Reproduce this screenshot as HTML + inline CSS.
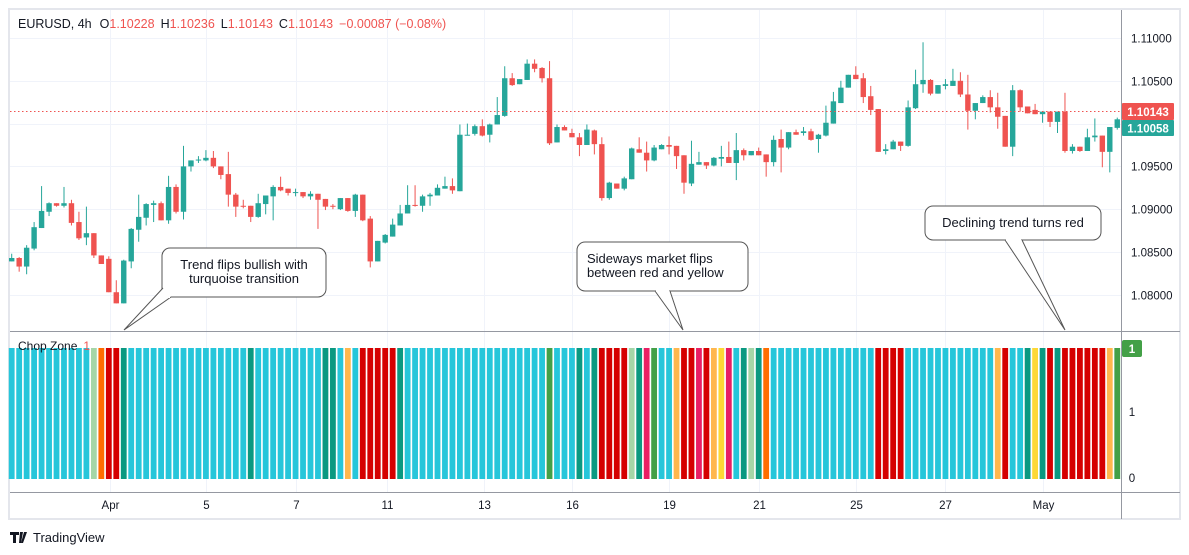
<!DOCTYPE html>
<html><head><meta charset="utf-8">
<style>
html,body{margin:0;padding:0;background:#fff;width:1189px;height:555px;overflow:hidden;font-family:"Liberation Sans",sans-serif;}
svg{position:absolute;left:0;top:0}
</style></head>
<body>
<svg id="chart" width="1189" height="555" viewBox="0 0 1189 555" xmlns="http://www.w3.org/2000/svg">
  <rect x="9" y="9" width="1171" height="510" fill="#fff" stroke="#e4e6ec" stroke-width="2"/>
  <g id="grid"></g>
  <g id="candles"></g>
  <g id="chop"></g>
  <line x1="10" y1="111.5" x2="1121" y2="111.5" stroke="#ef5350" stroke-width="1" stroke-dasharray="1.5,2.5"/>
  <line x1="10" y1="331.5" x2="1180" y2="331.5" stroke="#9598a1" stroke-width="1"/>
  <line x1="1121.5" y1="10" x2="1121.5" y2="519" stroke="#9598a1" stroke-width="1"/>
  <line x1="10" y1="492.5" x2="1180" y2="492.5" stroke="#9598a1" stroke-width="1"/>
  <g id="yaxis" font-size="11.5" fill="#131722"></g>
  <g id="xaxis" font-size="11.5" fill="#131722"></g>
  <rect x="1122" y="103" width="52" height="17" rx="1" fill="#ef5350"/>
  <text x="1148" y="116" font-size="11.5" font-weight="bold" fill="#fff" text-anchor="middle">1.10143</text>
  <rect x="1122" y="120" width="52" height="16" rx="1" fill="#26a69a"/>
  <text x="1148" y="132.5" font-size="11.5" font-weight="bold" fill="#fff" text-anchor="middle">1.10058</text>
  <rect x="1122" y="340" width="20" height="17" rx="2" fill="#43a047"/>
  <text x="1132" y="353" font-size="11.5" font-weight="bold" fill="#fff" text-anchor="middle">1</text>
  <text x="1132" y="416" font-size="11.5" fill="#131722" text-anchor="middle">1</text>
  <text x="1132" y="482" font-size="11.5" fill="#131722" text-anchor="middle">0</text>
  <text x="18" y="350" font-size="12" fill="#131722">Chop Zone<tspan dx="6" fill="#ef5350">1</tspan></text>
  <text x="18" y="28" font-size="12.5" fill="#131722">EURUSD, 4h<tspan dx="8">O</tspan><tspan fill="#ef5350">1.10228</tspan><tspan dx="6">H</tspan><tspan fill="#ef5350">1.10236</tspan><tspan dx="6">L</tspan><tspan fill="#ef5350">1.10143</tspan><tspan dx="6">C</tspan><tspan fill="#ef5350">1.10143</tspan><tspan dx="6" fill="#ef5350">−0.00087 (−0.08%)</tspan></text>

  <g>
    <rect x="162" y="248" width="164" height="49" rx="8" fill="#fff" stroke="#555" stroke-width="1"/>
    <polyline points="163,288 124,330 171,297" fill="#fff" stroke="#555" stroke-width="1"/>
    <line x1="164" y1="297" x2="170" y2="297" stroke="#fff" stroke-width="2"/>
    <text x="244" y="269" font-size="13" fill="#131722" text-anchor="middle">Trend flips bullish with</text>
    <text x="244" y="283" font-size="13" fill="#131722" text-anchor="middle">turquoise transition</text>
  </g>
  <g>
    <rect x="577" y="242" width="171" height="49" rx="8" fill="#fff" stroke="#555" stroke-width="1"/>
    <polyline points="655,291 683,330 670,291" fill="#fff" stroke="#555" stroke-width="1"/>
    <line x1="656" y1="291" x2="669" y2="291" stroke="#fff" stroke-width="2"/>
    <text x="587" y="263" font-size="13" fill="#131722">Sideways market flips</text>
    <text x="587" y="277" font-size="13" fill="#131722">between red and yellow</text>
  </g>
  <g>
    <rect x="925" y="206" width="176" height="34" rx="8" fill="#fff" stroke="#555" stroke-width="1"/>
    <polyline points="1005,240 1065,330 1022,240" fill="#fff" stroke="#555" stroke-width="1"/>
    <line x1="1006" y1="240" x2="1021" y2="240" stroke="#fff" stroke-width="2"/>
    <text x="1013" y="227" font-size="13" fill="#131722" text-anchor="middle">Declining trend turns red</text>
  </g>

  <g>
    <path d="M10 532h9v3h-3v8h-3v-8h-3z M20 532h3l-2 11h-2z M24 532h3l-4 11h-2z" fill="#131722"/>
    <text x="33" y="542" font-size="13" fill="#131722">TradingView</text>
  </g>
</svg>
<script>
const priceTicks=[1.11,1.105,1.1,1.095,1.09,1.085,1.08];
const priceTickLabels=["1.11000","1.10500","1.10000","1.09500","1.09000","1.08500","1.08000"];
const dateLabels=["Apr","5","7","11","13","16","19","21","25","27","May"];
const dateIndex=[13.1,26,38,50.3,63.2,75,88,100,113,125,138];
const opens=[1.0839,1.0843,1.0833,1.0854,1.0878,1.0897,1.0907,1.0904,1.0907,1.0885,1.0867,1.0872,1.0846,1.0842,1.0803,1.0790,1.0839,1.0876,1.0890,1.0905,1.0907,1.0887,1.0926,1.0897,1.0950,1.0957,1.0957,1.0960,1.0950,1.0941,1.0917,1.0904,1.0904,1.0891,1.0906,1.0915,1.0926,1.0924,1.0919,1.0920,1.0915,1.0918,1.0912,1.0904,1.0900,1.0913,1.0898,1.0917,1.0889,1.0839,1.0861,1.0868,1.0881,1.0895,1.0905,1.0904,1.0915,1.0916,1.0924,1.0927,1.0921,1.0986,1.0988,1.0997,1.0987,1.0999,1.1009,1.1053,1.1046,1.1051,1.1070,1.1065,1.1053,1.0978,1.0996,1.0989,1.0984,1.0975,1.0992,1.0976,1.0913,1.0930,1.0924,1.0935,1.0970,1.0966,1.0957,1.0970,1.0975,1.0974,1.0963,1.0930,1.0952,1.0955,1.0951,1.0959,1.0961,1.0954,1.0969,1.0963,1.0968,1.0964,1.0955,1.0982,1.0972,1.0990,1.0989,1.0991,1.0982,1.0986,1.1000,1.1024,1.1042,1.1057,1.1053,1.1032,1.1017,1.0968,1.0970,1.0979,1.0974,1.1018,1.1046,1.1051,1.1035,1.1044,1.1044,1.1050,1.1034,1.1015,1.1024,1.1031,1.1019,1.1009,1.0973,1.1039,1.1020,1.1016,1.1011,1.1014,1.1002,1.1014,1.0968,1.0973,1.0968,1.0984,1.0986,1.0967,1.0995];
const highs=[1.0848,1.0844,1.0858,1.0885,1.0927,1.0908,1.0907,1.0926,1.0911,1.0897,1.0903,1.0872,1.0846,1.0845,1.0817,1.0841,1.0878,1.0917,1.0907,1.0910,1.0909,1.0939,1.0929,1.0974,1.0957,1.0962,1.0969,1.0968,1.0950,1.0967,1.0919,1.0911,1.0904,1.0918,1.0916,1.0928,1.0938,1.0924,1.0924,1.0920,1.0921,1.0918,1.0912,1.0906,1.0913,1.0913,1.0918,1.0917,1.0892,1.0863,1.0871,1.0889,1.0905,1.0928,1.0928,1.0917,1.0919,1.0929,1.0938,1.0936,1.0999,1.1000,1.0999,1.1005,1.1000,1.1031,1.1067,1.1059,1.1052,1.1075,1.1075,1.1066,1.1073,1.0999,1.0998,1.0994,1.0989,1.0999,1.0993,1.0984,1.0932,1.0930,1.0938,1.0972,1.0984,1.0979,1.0975,1.0976,1.0985,1.0974,1.0963,1.0980,1.0967,1.0955,1.0961,1.0974,1.0979,1.0989,1.0971,1.0968,1.0972,1.0964,1.0986,1.0993,1.0990,1.0993,1.0996,1.0994,1.0988,1.1021,1.1037,1.1050,1.1057,1.1067,1.1059,1.1044,1.1017,1.0976,1.0981,1.0979,1.1027,1.1063,1.1095,1.1052,1.1045,1.1052,1.1064,1.1060,1.1057,1.1024,1.1033,1.1039,1.1036,1.1009,1.1045,1.1040,1.1020,1.1023,1.1014,1.1014,1.1014,1.1036,1.0976,1.0973,1.0994,1.1006,1.0986,1.0996,1.1007];
const lows=[1.0839,1.0827,1.0824,1.0852,1.0878,1.0892,1.0903,1.0902,1.0881,1.0864,1.0858,1.0843,1.0836,1.0803,1.0790,1.0790,1.0831,1.0862,1.0881,1.0885,1.0887,1.0883,1.0895,1.0888,1.0944,1.0954,1.0956,1.0948,1.0935,1.0903,1.0891,1.0901,1.0885,1.0890,1.0894,1.0887,1.0921,1.0916,1.0915,1.0913,1.0911,1.0877,1.0899,1.0900,1.0899,1.0897,1.0891,1.0886,1.0832,1.0839,1.0860,1.0868,1.0881,1.0895,1.0903,1.0897,1.0904,1.0916,1.0924,1.0918,1.0921,1.0986,1.0986,1.0985,1.0978,1.0999,1.1008,1.1044,1.1046,1.1051,1.1060,1.1048,1.0975,1.0978,1.0992,1.0984,1.0962,1.0975,1.0964,1.0910,1.0911,1.0924,1.0922,1.0935,1.0966,1.0944,1.0956,1.0970,1.0964,1.0947,1.0918,1.0927,1.0952,1.0947,1.0950,1.0950,1.0954,1.0934,1.0957,1.0963,1.0963,1.0938,1.0950,1.0943,1.0970,1.0987,1.0986,1.0980,1.0966,1.0985,1.1000,1.1024,1.1042,1.1052,1.1024,1.1010,1.0967,1.0964,1.0970,1.0968,1.0973,1.1017,1.1036,1.1033,1.1035,1.1040,1.1044,1.1031,1.0993,1.1005,1.1024,1.1013,1.0994,1.0973,1.0962,1.1014,1.1012,1.1011,1.1001,1.0996,1.0989,1.0966,1.0965,1.0967,1.0968,1.0979,1.0949,1.0943,1.0993];
const closes=[1.0843,1.0833,1.0855,1.0879,1.0898,1.0907,1.0904,1.0907,1.0884,1.0866,1.0872,1.0846,1.0836,1.0803,1.0790,1.0840,1.0877,1.0891,1.0906,1.0907,1.0887,1.0926,1.0897,1.0950,1.0957,1.0958,1.0960,1.0950,1.0940,1.0917,1.0903,1.0903,1.0891,1.0907,1.0916,1.0926,1.0922,1.0919,1.0920,1.0915,1.0918,1.0911,1.0903,1.0903,1.0913,1.0898,1.0917,1.0887,1.0839,1.0863,1.0870,1.0882,1.0895,1.0905,1.0904,1.0915,1.0917,1.0925,1.0927,1.0922,1.0987,1.0987,1.0997,1.0986,1.0999,1.1010,1.1053,1.1045,1.1052,1.1070,1.1064,1.1053,1.0977,1.0996,1.0992,1.0984,1.0975,1.0993,1.0976,1.0913,1.0931,1.0924,1.0936,1.0971,1.0966,1.0957,1.0972,1.0975,1.0973,1.0962,1.0931,1.0953,1.0955,1.0951,1.0960,1.0961,1.0954,1.0969,1.0963,1.0968,1.0963,1.0955,1.0981,1.0972,1.0990,1.0987,1.0991,1.0981,1.0987,1.1001,1.1026,1.1042,1.1057,1.1052,1.1031,1.1016,1.0967,1.0970,1.0979,1.0974,1.1019,1.1046,1.1051,1.1035,1.1045,1.1046,1.1050,1.1034,1.1015,1.1024,1.1031,1.1019,1.1008,1.0973,1.1039,1.1019,1.1012,1.1011,1.1014,1.1002,1.1014,1.0968,1.0973,1.0968,1.0984,1.0986,1.0967,1.0996,1.1005];
// chop zone: value per bar (all 1) and zone code
const chopValues=new Array(149).fill(1);
const chopZones="CCCCCCCCCCCLORRTCCCCCCCCCCCCCCCCTCCCCCCCCCTTCoCRRRRRTCCCCCCCCCCCCCCCCCCCGCCCTCTRRRRLTPGCCoRRPRoYPCTLTOCCCCCCCCCCCCCCRRRRCCCCCCCCCCCCoRCCTYTRTRRRRRRoG";
const zoneColors={C:"#26c6da",T:"#0a9981",L:"#a5d6a7",G:"#43a047",O:"#ff6d00",o:"#ffb74d",Y:"#fdd835",R:"#d50000",P:"#e91e63"};

const NS="http://www.w3.org/2000/svg";
const x0=11.7, step=7.47;
const xOf=i=>x0+i*step;
const yOf=p=>38+(1.11-p)*8560;
const chopTop=348, chopBottom=479;
const yChop=v=>chopBottom-(chopBottom-chopTop)*v;
function mk(tag,attrs,parent){const e=document.createElementNS(NS,tag);for(const k in attrs)e.setAttribute(k,attrs[k]);parent.appendChild(e);return e;}

const grid=document.getElementById('grid');
const yaxis=document.getElementById('yaxis');
priceTicks.forEach((p,i)=>{
  const y=Math.round(yOf(p))+0.5;
  const l=mk('line',{x1:10,x2:1121,y1:y,y2:y,stroke:'#f0f3fa','stroke-width':1},grid);
  
  
  const t=mk('text',{x:1131,y:y+4},yaxis);
  t.textContent=priceTickLabels[i];
  
  
});
const xaxis=document.getElementById('xaxis');
dateLabels.forEach((d,i)=>{
  const x=Math.round(xOf(dateIndex[i]))+0.5;
  const l=mk('line',{x1:x,x2:x,y1:10,y2:492,stroke:'#f0f3fa','stroke-width':1},grid);
  
  
  const t=mk('text',{x:x,y:509,'text-anchor':'middle'},xaxis);
  t.textContent=d;
  
  
});

const cg=document.getElementById('candles');
closes.forEach((c,i)=>{
  const o=opens[i],h=highs[i],l=lows[i];
  const up=c>=o, col=up?'#26a69a':'#ef5350';
  const x=xOf(i);
  const g=mk('g',{},cg);
  
  
  mk('line',{x1:x,x2:x,y1:yOf(h),y2:yOf(l),stroke:col,'stroke-width':1},g);
  const top=yOf(Math.max(o,c)), bot=yOf(Math.min(o,c));
  mk('rect',{x:x-2.7,y:top,width:5.4,height:Math.max(1,bot-top),fill:col},g);
});

const hg=document.getElementById('chop');
chopValues.forEach((v,i)=>{
  const x=xOf(i);
  const r=mk('rect',{x:x-2.9,y:yChop(v),width:5.8,height:chopBottom-yChop(v),fill:zoneColors[chopZones[i]]||'#26c6da'},hg);
  
  
});
</script>
</body></html>
